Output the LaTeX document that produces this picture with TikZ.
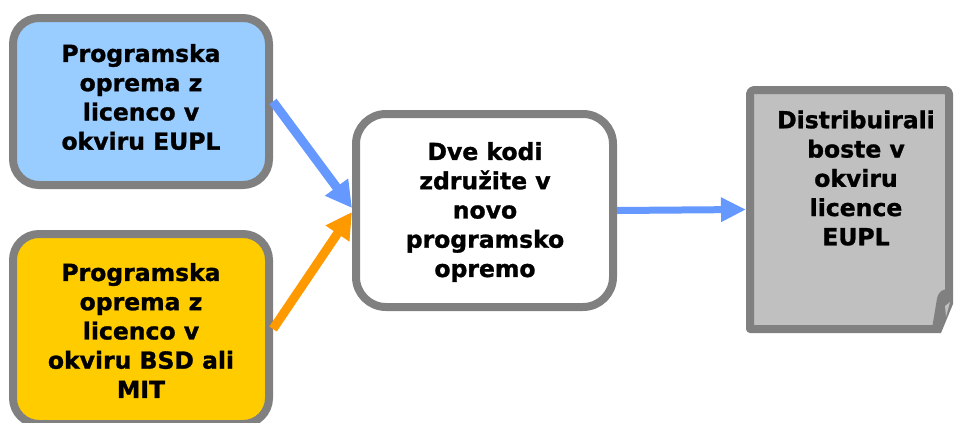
\documentclass[tikz,border=0pt]{standalone}
\usepackage{fontspec}
\setmainfont{DejaVu Sans}
\newfontfamily\boxfont{DejaVu Sans Bold}[FakeBold=1.2]
\usetikzlibrary{arrows.meta}
\definecolor{bordergray}{HTML}{808080}
\definecolor{eublue}{HTML}{99CCFF}
\definecolor{bsdyellow}{HTML}{FFCC00}
\definecolor{arrowblue}{HTML}{6699FF}
\definecolor{arroworange}{HTML}{FF9900}
\definecolor{docgray}{HTML}{C0C0C0}
\begin{document}
\begin{tikzpicture}[x=1pt,y=-1pt,
  box/.style={draw=bordergray, line width=8pt, rounded corners=26pt, inner sep=0pt},
  txt/.style={font=\boxfont\fontsize{23.5}{29.25}\selectfont, align=center, inner sep=0pt},
  conn/.style={line width=9pt, -{Triangle[length=26pt,width=27pt]}}]
\useasboundingbox (0,0) rectangle (954,423);
% boxes
\node[box, fill=eublue, minimum width=256pt, minimum height=167pt] (eupl) at (141,101.5) {};
\node[box, fill=bsdyellow, minimum width=256pt, minimum height=190pt] (bsd) at (141,329) {};
\node[box, fill=white, minimum width=257pt, minimum height=193pt, rounded corners=30pt] (mid) at (484.5,210.5) {};
\node[draw=none, minimum width=199pt, minimum height=239pt, outer sep=4pt, inner sep=0pt] (doc) at (849.5,209.5) {};
% document shape
\draw[draw=bordergray, fill=docgray, line width=8pt, line join=round]
  (750,329) -- (750,95) [rounded corners=4pt] -- (750,90) -- (949,90) [sharp corners] -- (949,294)
  .. controls (946,292) and (942,294) .. (941,299) -- (936,329) -- cycle;
% curled corner
\fill[bordergray] (936,333) -- (938,298) .. controls (941,292) and (948,291) .. (953,294)
  -- (953,304) -- (941,333) -- cycle;
\fill[docgray] (945,306) -- (950,302) -- (946,317) -- cycle;
% texts
\node[txt] (eupltxt) at (141,97) {Programska\\oprema z\\licenco v\\okviru EUPL};
\node[txt] (bsdtxt) at (141,330.5) {Programska\\oprema z\\licenco v\\okviru BSD ali\\MIT};
\node[txt] (midtxt) at (485,212) {Dve kodi\\združite v\\novo\\programsko\\opremo};
\node[txt] (doctxt) at (856,178) {Distribuirali\\boste v\\okviru\\licence\\EUPL};
% connectors
\draw[conn, arrowblue] (eupl.east) -- ([yshift=2.5pt]mid.west);
\draw[conn, arroworange] (bsd.east) -- ([yshift=-1.5pt]mid.west);
\draw[arrowblue, line width=7pt, -{Triangle[length=25pt,width=23pt]}] (mid.east) -- (doc.west);
\end{tikzpicture}
\end{document}
